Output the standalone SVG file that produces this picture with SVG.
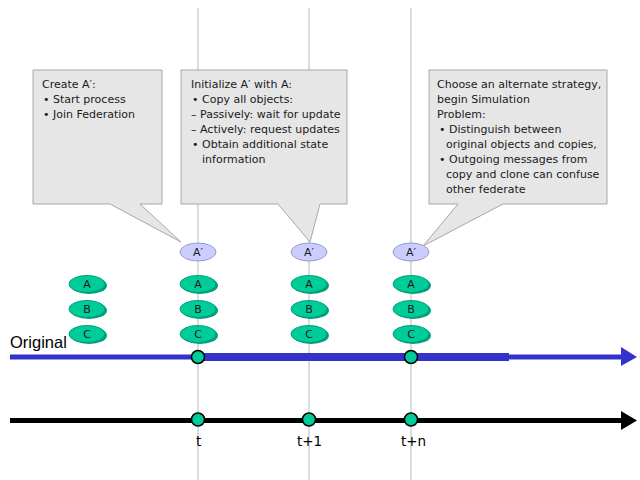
<svg xmlns="http://www.w3.org/2000/svg" width="640" height="480" viewBox="0 0 640 480">
<style>
.vline{stroke:#c4c4c4;stroke-width:1.2;fill:none}
.callout{fill:#e6e6e6;stroke:#a8a8a8;stroke-width:1}
.ct{font-family:"DejaVu Sans",Verdana,sans-serif;font-size:11px;fill:#1a1a1a}
.obj{fill:#00cc99;stroke:#00a07a;stroke-width:1}
.objs{fill:#009f78}
.clone{fill:#ccccff;stroke:#9a9ac8;stroke-width:1}
.ot{font-family:"DejaVu Sans",Verdana,sans-serif;font-size:11px;fill:#1a1a1a;text-anchor:middle}
.dot{fill:#00cc99;stroke:#000;stroke-width:1.5}
.tl{font-family:"DejaVu Sans",Verdana,sans-serif;font-size:13.5px;fill:#000}
</style>
<rect width="640" height="480" fill="#fff"/>
<g id="gridlines">
<line class="vline" x1="198" y1="8" x2="198" y2="480"/>
<line class="vline" x1="309" y1="8" x2="309" y2="480"/>
<line class="vline" x1="411" y1="8" x2="411" y2="480"/>
</g>
<g id="callout1">
<path class="callout" d="M33,70 H162 V204 H140 L181,242 L110,204 H33 Z"/>
<text class="ct" x="42" y="88">Create A′:</text>
<text class="ct" x="43" y="103">• Start process</text>
<text class="ct" x="43" y="118">• Join Federation</text>
</g>
<g id="callout2">
<path class="callout" d="M181,70 H347 V204 H320 L310,242 L278,204 H181 Z"/>
<text class="ct" x="191" y="88">Initialize A′ with A:</text>
<text class="ct" x="192" y="103">• Copy all objects:</text>
<text class="ct" x="191" y="118">– Passively: wait for update</text>
<text class="ct" x="191" y="133">– Actively: request updates</text>
<text class="ct" x="192" y="148">• Obtain additional state</text>
<text class="ct" x="202" y="163">information</text>
</g>
<g id="callout3">
<path class="callout" d="M429,70 H607 V204 H503 L423,246 L458,204 H429 Z"/>
<text class="ct" x="437" y="88">Choose an alternate strategy,</text>
<text class="ct" x="437" y="103">begin Simulation</text>
<text class="ct" x="437" y="118">Problem:</text>
<text class="ct" x="439" y="133">• Distinguish between</text>
<text class="ct" x="446" y="148">original objects and copies,</text>
<text class="ct" x="439" y="163">• Outgoing messages from</text>
<text class="ct" x="446" y="178">copy and clone can confuse</text>
<text class="ct" x="446" y="193">other federate</text>
</g>
<g id="connectors">
<line x1="10" y1="357" x2="200" y2="357" stroke="#3333cc" stroke-width="5"/>
<line x1="198" y1="357" x2="509" y2="357" stroke="#3333cc" stroke-width="8"/>
<line x1="508" y1="357" x2="623" y2="357" stroke="#3333cc" stroke-width="5"/>
<polygon points="621,347 637,357 621,366" fill="#3333cc"/>
<line x1="10" y1="420.5" x2="623" y2="420.5" stroke="#000" stroke-width="5"/>
<polygon points="621,411 637,420.5 621,430" fill="#000"/>
</g>
<g id="label-original">
<text x="10" y="348" font-family="'Liberation Sans',Arial,sans-serif" font-size="16.5" fill="#000">Original</text>
</g>
<g id="col0">
<ellipse class="objs" cx="89" cy="285.5" rx="18" ry="8.5"/><ellipse class="obj" cx="87" cy="284" rx="18" ry="8.5"/><text class="ot" x="87" y="288">A</text>
<ellipse class="objs" cx="89" cy="310.5" rx="18" ry="8.5"/><ellipse class="obj" cx="87" cy="309" rx="18" ry="8.5"/><text class="ot" x="87" y="313">B</text>
<ellipse class="objs" cx="89" cy="335.5" rx="18" ry="8.5"/><ellipse class="obj" cx="87" cy="334" rx="18" ry="8.5"/><text class="ot" x="87" y="338">C</text>
</g>
<g id="col-t">
<ellipse class="clone" cx="198" cy="252" rx="18" ry="9"/><text class="ot" x="198" y="256">A′</text>
<ellipse class="objs" cx="200" cy="285.5" rx="18" ry="8.5"/><ellipse class="obj" cx="198" cy="284" rx="18" ry="8.5"/><text class="ot" x="198" y="288">A</text>
<ellipse class="objs" cx="200" cy="310.5" rx="18" ry="8.5"/><ellipse class="obj" cx="198" cy="309" rx="18" ry="8.5"/><text class="ot" x="198" y="313">B</text>
<ellipse class="objs" cx="200" cy="335.5" rx="18" ry="8.5"/><ellipse class="obj" cx="198" cy="334" rx="18" ry="8.5"/><text class="ot" x="198" y="338">C</text>
</g>
<g id="col-t1">
<ellipse class="clone" cx="309" cy="252" rx="18" ry="9"/><text class="ot" x="309" y="256">A′</text>
<ellipse class="objs" cx="311" cy="285.5" rx="18" ry="8.5"/><ellipse class="obj" cx="309" cy="284" rx="18" ry="8.5"/><text class="ot" x="309" y="288">A</text>
<ellipse class="objs" cx="311" cy="310.5" rx="18" ry="8.5"/><ellipse class="obj" cx="309" cy="309" rx="18" ry="8.5"/><text class="ot" x="309" y="313">B</text>
<ellipse class="objs" cx="311" cy="335.5" rx="18" ry="8.5"/><ellipse class="obj" cx="309" cy="334" rx="18" ry="8.5"/><text class="ot" x="309" y="338">C</text>
</g>
<g id="col-tn">
<ellipse class="clone" cx="411" cy="252" rx="18" ry="9"/><text class="ot" x="411" y="256">A′</text>
<ellipse class="objs" cx="413" cy="285.5" rx="18" ry="8.5"/><ellipse class="obj" cx="411" cy="284" rx="18" ry="8.5"/><text class="ot" x="411" y="288">A</text>
<ellipse class="objs" cx="413" cy="310.5" rx="18" ry="8.5"/><ellipse class="obj" cx="411" cy="309" rx="18" ry="8.5"/><text class="ot" x="411" y="313">B</text>
<ellipse class="objs" cx="413" cy="335.5" rx="18" ry="8.5"/><ellipse class="obj" cx="411" cy="334" rx="18" ry="8.5"/><text class="ot" x="411" y="338">C</text>
</g>
<g id="events">
<circle class="dot" cx="198" cy="357" r="6.5"/>
<circle class="dot" cx="411" cy="357" r="6.5"/>
<circle class="dot" cx="198" cy="419.5" r="6.5"/>
<circle class="dot" cx="309" cy="419.5" r="6.5"/>
<circle class="dot" cx="411" cy="419.5" r="6.5"/>
<text class="tl" x="196" y="446">t</text>
<text class="tl" x="297" y="446">t+1</text>
<text class="tl" x="401" y="446">t+n</text>
</g>
</svg>
